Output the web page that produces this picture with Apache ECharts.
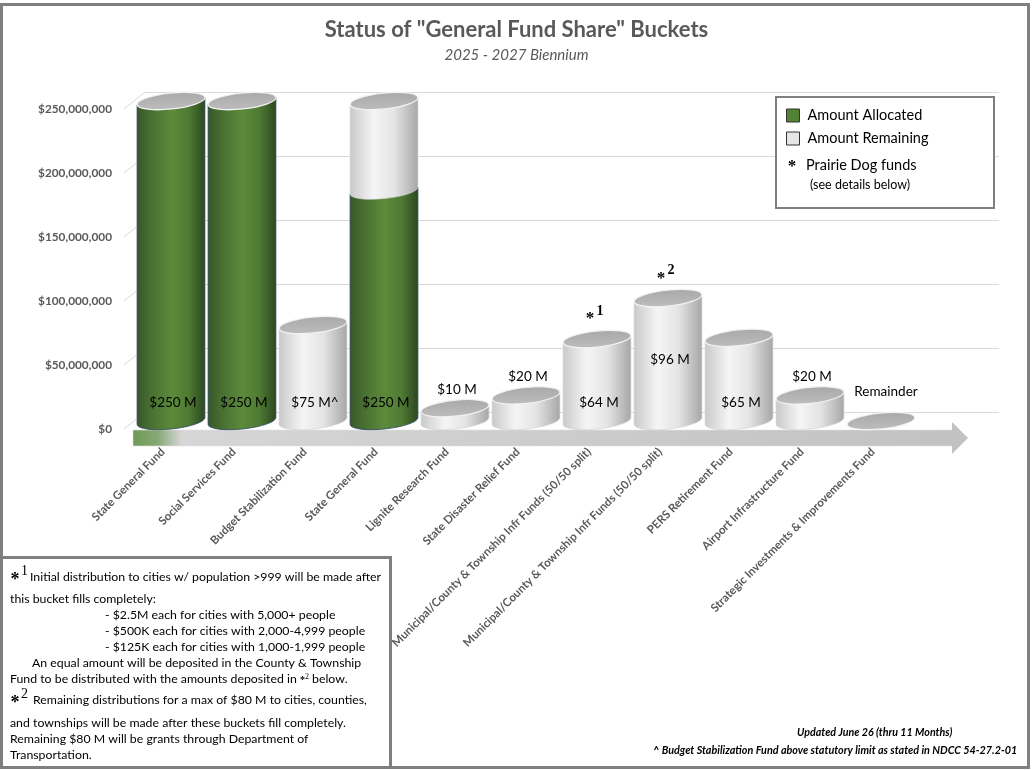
<!DOCTYPE html>
<html>
<head>
<meta charset="utf-8">
<style>
  html, body { margin: 0; padding: 0; background: #fff; }
  #chart { width: 1033px; height: 770px; }
</style>
<script src="https://cdn.jsdelivr.net/npm/echarts@6/dist/echarts.min.js"></script>
</head>
<body>
<div id="chart"></div>
<script>
// values in $ millions
const categories = [
  "State General Fund",
  "Social Services Fund",
  "Budget Stabilization Fund",
  "State General Fund",
  "Lignite Research Fund",
  "State Disaster Relief Fund",
  "Municipal/County & Township Infr Funds (50/50 split)",
  "Municipal/County & Township Infr Funds (50/50 split)",
  "PERS Retirement Fund",
  "Airport Infrastructure Fund",
  "Strategic Investments & Improvements Fund"
];
const allocated = [250, 250, 0, 180, 0, 0, 0, 0, 0, 0, 0];
const remaining = [0, 0, 75, 70, 10, 20, 64, 96, 65, 20, 0];
const valueLabels = ["$250 M", "$250 M", "$75 M^", "$250 M", "$10 M", "$20 M", "$64 M", "$96 M", "$65 M", "$20 M", "Remainder"];
const noteMarks = ["", "", "", "", "", "", "1", "2", "", "", ""];
const yTicks = [0, 50, 100, 150, 200, 250];

const FONT = "Lato, 'Open Sans', sans-serif";
const SERIF = "'Liberation Serif', 'DejaVu Serif', serif";
const TEXT_GRAY = "#595959";
const TILT = 6;
const sinT = Math.sin(TILT * Math.PI / 180);
const cosT = Math.cos(TILT * Math.PI / 180);
const RY = 8;

const chart = echarts.init(document.getElementById("chart"));

function ends(cx, cy, rx) {
  return [[cx - rx * cosT, cy + rx * sinT], [cx + rx * cosT, cy - rx * sinT]];
}
function bodyPath(cx, yTop, yBot, rx) {
  const [lt, rt] = ends(cx, yTop, rx);
  const [lb, rb] = ends(cx, yBot, rx);
  return `M${lt[0]} ${lt[1]} L${lb[0]} ${lb[1]} A${rx} ${RY} ${-TILT} 0 0 ${rb[0]} ${rb[1]} L${rt[0]} ${rt[1]} Z`;
}
function capPath(cx, cy, rx) {
  const [l, r] = ends(cx, cy, rx);
  return `M${l[0]} ${l[1]} A${rx} ${RY} ${-TILT} 0 1 ${r[0]} ${r[1]} A${rx} ${RY} ${-TILT} 0 1 ${l[0]} ${l[1]} Z`;
}
function capEl(cx, cy, rx) {
  return {
    type: "path",
    shape: { pathData: capPath(cx, cy, rx) },
    style: {
      fill: new echarts.graphic.LinearGradient(0, 0, 0, 1, [
        { offset: 0, color: "#a9a9a9" },
        { offset: 1, color: "#bcbcbc" }
      ]),
      stroke: "#f2f2f2",
      lineWidth: 1.3
    }
  };
}
const greenFill = () => new echarts.graphic.LinearGradient(0, 0, 1, 0, [
  { offset: 0, color: "#36552a" },
  { offset: 0.15, color: "#44692f" },
  { offset: 0.5, color: "#5b8b3b" },
  { offset: 0.75, color: "#4f7b33" },
  { offset: 1, color: "#2c4621" }
]);
const grayFill = () => new echarts.graphic.LinearGradient(0, 0, 1, 0, [
  { offset: 0, color: "#c9c9c9" },
  { offset: 0.35, color: "#f5f5f5" },
  { offset: 0.65, color: "#e4e4e4" },
  { offset: 1, color: "#a6a6a6" }
]);

function renderAllocated(params, api) {
  const i = api.value(0), a = api.value(1), r = api.value(2);
  if (a <= 0) return;
  const base = api.coord([i, 0]);
  const top = api.coord([i, a]);
  const rx = api.size([1, 0])[0] * 0.96 / 2;
  const children = [{
    type: "path",
    shape: { pathData: bodyPath(base[0], top[1], base[1], rx) },
    style: { fill: greenFill(), stroke: "#2b4660", lineWidth: 0.8 }
  }];
  if (r <= 0) children.push(capEl(base[0], top[1], rx));
  return { type: "group", children };
}

function renderRemaining(params, api) {
  const i = api.value(0), a = api.value(1), r = api.value(2);
  const base = api.coord([i, a]);
  const top = api.coord([i, a + r]);
  const rx = api.size([1, 0])[0] * 0.96 / 2;
  const children = [];
  if (r > 0) {
    children.push({
      type: "path",
      shape: { pathData: bodyPath(base[0], top[1], base[1], rx) },
      style: { fill: grayFill(), stroke: "#d0d0d0", lineWidth: 0.6 }
    });
  }
  if (r > 0 || a <= 0) children.push(capEl(base[0], top[1], rx));
  return { type: "group", children };
}

function renderLabels(params, api) {
  const i = api.value(0), a = api.value(1), r = api.value(2);
  const total = a + r;
  const zero = api.coord([i, 0]);
  const top = api.coord([i, total]);
  const cx = zero[0];
  let y;
  if (total <= 0) y = top[1] - 29;
  else if (total < 30) y = top[1] - 19;
  else if (a <= 0 && total > 90) y = (top[1] + zero[1]) / 2;
  else y = zero[1] - 18;
  const children = [{
    type: "text",
    x: total <= 0 ? cx + 5 : cx + 2,
    y: y,
    style: {
      text: valueLabels[i], fill: "#000", font: "13.5px " + FONT,
      align: "center", verticalAlign: "middle",
      textAlign: "center", textVerticalAlign: "middle"
    }
  }];
  const mark = noteMarks[i];
  if (mark) {
    children.push({
      type: "text", x: cx - 7, y: top[1] - 20,
      style: { text: "*", fill: "#000", font: "bold 17px " + SERIF, align: "center", verticalAlign: "middle", textAlign: "center", textVerticalAlign: "middle" }
    });
    children.push({
      type: "text", x: cx + 3, y: top[1] - 28,
      style: { text: mark, fill: "#000", font: "bold 14px " + SERIF, align: "center", verticalAlign: "middle", textAlign: "center", textVerticalAlign: "middle" }
    });
  }
  return { type: "group", children };
}

function renderYTicks(params, api) {
  const p = api.coord([0, api.value(0)]);
  return {
    type: "line",
    shape: { x1: p[0] - 21, y1: p[1] + 17, x2: p[0], y2: p[1] },
    style: { stroke: "#d9d9d9", lineWidth: 1 }
  };
}

const rows = categories.map((c, i) => [i, allocated[i], remaining[i]]);

const footLines = [
  { x: 30, y: 577, t: "Initial distribution to cities w/ population >999 will be made after" },
  { x: 10, y: 599, t: "this bucket fills completely:" },
  { x: 105, y: 615, t: "- $2.5M each for cities with 5,000+ people" },
  { x: 105, y: 631, t: "- $500K each for cities with 2,000-4,999 people" },
  { x: 105, y: 647, t: "- $125K each for cities with 1,000-1,999 people" },
  { x: 32, y: 663, t: "An equal amount will be deposited in the County & Township" },
  { x: 10, y: 679, t: "Fund to be distributed with the amounts deposited in {st|*}{sup|2} below." },
  { x: 33, y: 700, t: "Remaining distributions for a max of $80 M to cities, counties," },
  { x: 10, y: 723, t: "and townships will be made after these buckets fill completely." },
  { x: 10, y: 739, t: "Remaining $80 M will be grants through Department of" },
  { x: 10, y: 755, t: "Transportation." }
];

function txt(x, y, text, font, extra) {
  return {
    type: "text", x: x, y: y, z: 10,
    style: Object.assign({ text: text, fill: "#000", font: font, verticalAlign: "middle", textVerticalAlign: "middle" }, extra || {})
  };
}

const graphics = [
  // outer frame
  { type: "rect", z: 0, shape: { x: 1.5, y: 4.5, width: 1027, height: 763 }, style: { fill: "none", stroke: "#7f7f7f", lineWidth: 3 } },
  // floor arrow
  {
    type: "rect", z: 0, shape: { x: 133, y: 430, width: 820, height: 16 },
    style: {
      fill: new echarts.graphic.LinearGradient(0, 0, 1, 0, [
        { offset: 0, color: "#6f9a57" },
        { offset: 0.03, color: "#86a874" },
        { offset: 0.06, color: "#d6d6d6" },
        { offset: 1, color: "#c2c2c2" }
      ]),
      stroke: "#e0e0e0", lineWidth: 0.6
    }
  },
  { type: "polygon", z: 0, shape: { points: [[952, 422], [968, 438], [952, 454]] }, style: { fill: "#c2c2c2" } },
  // legend box
  { type: "rect", z: 5, shape: { x: 776, y: 97, width: 218, height: 111 }, style: { fill: "#fff", stroke: "#7f7f7f", lineWidth: 2 } },
  txt(792, 167, "*", "bold 17px " + SERIF, { align: "center", textAlign: "center" }),
  txt(806, 165, "Prairie Dog funds", "14.5px " + FONT),
  txt(810, 185, "(see details below)", "12.5px " + FONT),
  // footnote box
  { type: "rect", z: 5, shape: { x: 1.5, y: 557.5, width: 389, height: 210 }, style: { fill: "#fff", stroke: "#7f7f7f", lineWidth: 3 } },
  txt(15, 580, "*", "bold 18px " + SERIF, { align: "center", textAlign: "center" }),
  txt(21, 571, "1", "14px " + SERIF),
  txt(15, 703, "*", "bold 18px " + SERIF, { align: "center", textAlign: "center" }),
  txt(21, 694, "2", "14px " + SERIF),
  txt(797, 733, "Updated June 26 (thru 11 Months)", "italic bold 10.7px " + FONT),
  txt(653, 751, "^ Budget Stabilization Fund above statutory limit as stated in NDCC 54-27.2-01", "italic bold 10.8px " + FONT)
];
footLines.forEach(l => {
  graphics.push({
    type: "text", x: l.x, y: l.y, z: 10,
    style: {
      text: l.t, fill: "#000", font: "12.3px " + FONT, verticalAlign: "middle", textVerticalAlign: "middle",
      rich: {
        st: { fontFamily: SERIF, fontSize: 10, fontWeight: "bold", verticalAlign: "bottom" },
        sup: { fontFamily: SERIF, fontSize: 8, verticalAlign: "top" }
      }
    }
  });
});

const option = {
  backgroundColor: "#fff",
  animation: false,
  title: {
    text: 'Status of "General Fund Share" Buckets',
    subtext: "2025 - 2027 Biennium",
    left: "center",
    top: 14,
    itemGap: 7,
    textStyle: { fontFamily: FONT, fontSize: 22, fontWeight: "bold", color: TEXT_GRAY },
    subtextStyle: { fontFamily: FONT, fontSize: 15, fontStyle: "italic", color: TEXT_GRAY }
  },
  legend: {
    orient: "vertical",
    left: 781,
    top: 103,
    itemWidth: 13,
    itemHeight: 13,
    itemGap: 8,
    icon: "rect",
    z: 10,
    selectedMode: false,
    textStyle: { fontFamily: FONT, fontSize: 14.5, color: "#000", padding: [0, 0, 0, 3] },
    data: [
      { name: "Amount Allocated", itemStyle: { color: "#548235", borderColor: "#333", borderWidth: 1 } },
      { name: "Amount Remaining", itemStyle: { color: "#e7e6e6", borderColor: "#333", borderWidth: 1 } }
    ]
  },
  grid: [
    { left: 135.5, width: 781, top: 101, height: 320 },   // bars
    { left: 124, width: 10, top: 109, height: 320 },      // y labels
    { left: 145, width: 854, top: 92, height: 320 },      // back wall gridlines
    { left: 127.5, width: 781, top: 400, height: 41 }     // category labels
  ],
  xAxis: [
    { gridIndex: 0, type: "category", data: categories, show: false },
    { gridIndex: 1, type: "value", show: false },
    { gridIndex: 2, type: "value", min: 0, max: 1, show: false },
    {
      gridIndex: 3, type: "category", data: categories,
      axisLine: { show: false }, axisTick: { show: false },
      axisLabel: { interval: 0, rotate: 45, margin: 9, fontFamily: FONT, fontSize: 11.5, fontWeight: "bold", color: TEXT_GRAY }
    }
  ],
  yAxis: [
    { gridIndex: 0, type: "value", min: 0, max: 250, show: false },
    {
      gridIndex: 1, type: "value", min: 0, max: 250, interval: 50,
      axisLine: { show: false }, axisTick: { show: false }, splitLine: { show: false },
      axisLabel: {
        margin: 12, fontFamily: FONT, fontSize: 11.8, fontWeight: "bold", color: TEXT_GRAY,
        formatter: v => "$" + (v * 1e6).toLocaleString("en-US")
      }
    },
    {
      gridIndex: 2, type: "value", min: 0, max: 250, interval: 50,
      axisLine: { show: false }, axisTick: { show: false }, axisLabel: { show: false },
      splitLine: { lineStyle: { color: "#d9d9d9", width: 1 } }
    },
    { gridIndex: 3, type: "value", show: false }
  ],
  series: [
    { type: "custom", name: "ticks", xAxisIndex: 2, yAxisIndex: 2, renderItem: renderYTicks, data: yTicks.map(v => [v]), silent: true, z: 1 },
    { type: "custom", name: "Amount Allocated", xAxisIndex: 0, yAxisIndex: 0, renderItem: renderAllocated, data: rows, itemStyle: { color: "#548235" }, z: 3 },
    { type: "custom", name: "Amount Remaining", xAxisIndex: 0, yAxisIndex: 0, renderItem: renderRemaining, data: rows, itemStyle: { color: "#e7e6e6" }, z: 4 },
    { type: "custom", name: "labels", xAxisIndex: 0, yAxisIndex: 0, renderItem: renderLabels, data: rows, silent: true, z: 6 }
  ],
  graphic: graphics
};

chart.setOption(option);
</script>
</body>
</html>
